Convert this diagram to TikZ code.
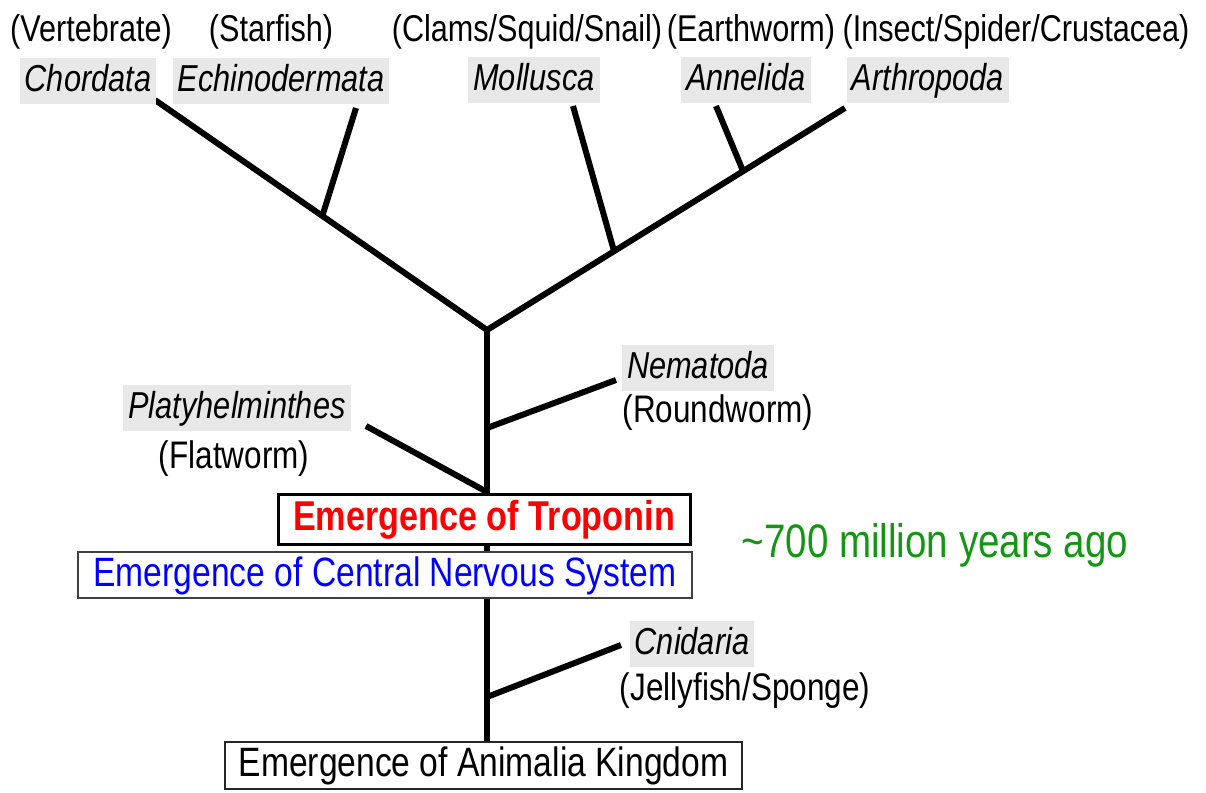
\documentclass[tikz,border=0pt]{standalone}
\usepackage{fontspec}
\setmainfont[FakeStretch=0.82]{Liberation Sans}
\usetikzlibrary{backgrounds}
\definecolor{labelgray}{RGB}{232,232,232}
\definecolor{agegreen}{RGB}{20,150,20}
\begin{document}
\begin{tikzpicture}[x=1pt,y=-1pt,
  branch/.style={line width=6pt},
  taxon/.style={fill=labelgray, inner xsep=5pt, inner ysep=0pt, minimum height=46pt, text height=27.8pt, text depth=7.5pt, font=\fontsize{37.5}{42}\selectfont\itshape},
  common/.style={inner sep=0pt, text height=27.6pt, text depth=7.5pt, font=\fontsize{37.3}{42}\selectfont},
  midcommon/.style={inner sep=0pt, text height=28.4pt, text depth=7.7pt, font=\fontsize{38.4}{42}\selectfont},
  event/.style={draw, fill=white, inner sep=0pt, text height=30.3pt, text depth=8.2pt, font=\fontsize{41}{46}\selectfont}]
\useasboundingbox (0,0) rectangle (1206,792);

% top common names
\node[common] (vert) at (91,31) {(Vertebrate)};
\node[common] (star) at (271,31) {(Starfish)};
\node[common] (clam) at (527,31) {(Clams/Squid/Snail)};
\node[common] (earth) at (751,31) {(Earthworm)};
\node[common] (insect) at (1016,31) {(Insect/Spider/Crustacea)};

% top taxa
\node[taxon] (chord) at (88,81) {Chordata};
\node[taxon] (echin) at (281,81) {Echinodermata};
\node[taxon] (moll) at (534,80) {Mollusca};
\node[taxon] (anne) at (746,80) {Annelida};
\node[taxon] (arth) at (928,80) {Arthropoda};

% middle taxa
\node[taxon] (plat) at (237,408) {Platyhelminthes};
\node[midcommon] (flat) at (234,458) {(Flatworm)};
\node[taxon] (nema) at (698,368) {Nematoda};
\node[midcommon] (round) at (718,412) {(Roundworm)};
\node[taxon] (cnid) at (692,644) {Cnidaria};
\node[midcommon] (jelly) at (745,690) {(Jellyfish/Sponge)};

% events
\node[event, line width=3pt, minimum width=412pt, minimum height=50pt, text=red, text height=30.9pt, text depth=8.3pt, font=\fontsize{41.7}{46}\selectfont\bfseries] (tropo) at (484,519) {Emergence of Troponin};
\node[event, line width=2pt, draw=black!75, minimum width=614pt, minimum height=46pt, text=blue] (cns) at (385,575) {Emergence of Central Nervous System};
\node[event, line width=2pt, draw=black!85, minimum width=517pt, minimum height=47pt] (anim) at (483.5,765) {Emergence of Animalia Kingdom};

\node[inner sep=0pt, text=agegreen, font=\fontsize{47}{52}\selectfont] (age) at (935,545) {\textasciitilde700 million years ago};

% tree coordinates
\coordinate (fork) at (487,330);
\coordinate (chordEnd) at (155,100);
\coordinate (arthEnd) at (845,108);
\coordinate (echJ) at (322,217);
\coordinate (echEnd) at (356,108);
\coordinate (molJ) at (614,251);
\coordinate (molEnd) at (573,106);
\coordinate (annJ) at (743,171);
\coordinate (annEnd) at (716,106);
\coordinate (nemJ) at (487,428);
\coordinate (nemEnd) at (616,380);
\coordinate (platJ) at (487,492);
\coordinate (platEnd) at (366,426);
\coordinate (cniJ) at (487,697);
\coordinate (cniEnd) at (621,645);

\begin{pgfonlayer}{background}
\draw[branch] (fork) -- (fork |- anim.north);
\draw[branch, line join=miter] (chordEnd) -- (fork) -- (arthEnd);
\draw[branch] (echJ) -- (echEnd);
\draw[branch] (molJ) -- (molEnd);
\draw[branch] (annJ) -- (annEnd);
\draw[branch] (nemJ) -- (nemEnd);
\draw[branch] (platJ) -- (platEnd);
\draw[branch] (cniJ) -- (cniEnd);
\end{pgfonlayer}
\end{tikzpicture}
\end{document}
